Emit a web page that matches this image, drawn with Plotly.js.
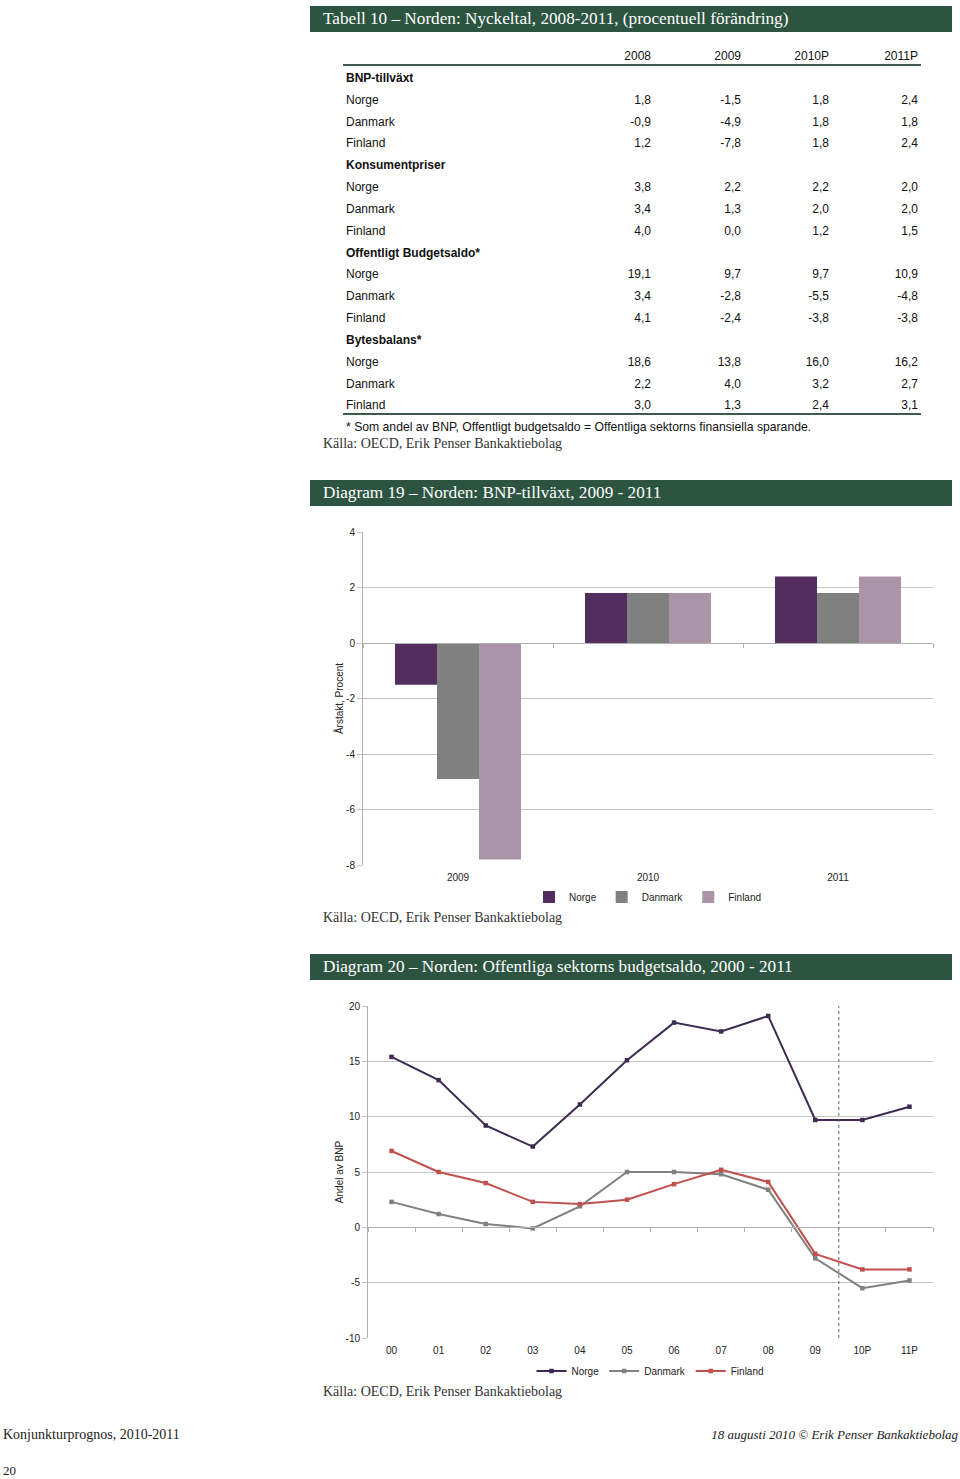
<!DOCTYPE html>
<html>
<head>
<meta charset="utf-8">
<script src="https://cdn.plot.ly/plotly-3.0.1.min.js"></script>
<style>
  html, body { margin:0; padding:0; background:#fff; }
  #page { position:relative; width:960px; height:1479px; overflow:hidden; font-family:"Liberation Sans", Arial, sans-serif; }
  .hdr { position:absolute; left:310px; width:642px; height:26px; background:#2d5441; color:#fff;
         font-family:"Liberation Serif","DejaVu Serif",serif; font-size:17.2px; line-height:26px; box-sizing:border-box; padding-left:13px; }
  .src { position:absolute; left:323px; font-family:"Liberation Serif",serif; font-size:14px; color:#333; line-height:16px; }
  .cell { position:absolute; font-size:12px; line-height:16px; color:#111; white-space:nowrap; }
  .num { width:80px; text-align:right; }
  .bold { font-weight:bold; }
  .gline { position:absolute; left:343px; width:578px; height:2px; background:#3e5a4c; }
  .foot { position:absolute; font-family:"Liberation Serif",serif; font-size:13px; color:#222; line-height:16px; white-space:nowrap; }
  #bar { position:absolute; left:310px; top:510px; width:642px; height:400px; }
  #line { position:absolute; left:310px; top:985px; width:642px; height:400px; }
</style>
</head>
<body>
<div id="page">
  <div class="hdr" style="top:6px;">Tabell 10 – Norden: Nyckeltal, 2008-2011, (procentuell förändring)</div>
  <div id="table"></div>
  <div class="gline" style="top:64px;"></div>
  <div class="gline" style="top:413px;"></div>
  <div class="cell" style="left:346px; top:419px; font-size:12.2px;">* Som andel av BNP, Offentligt budgetsaldo = Offentliga sektorns finansiella sparande.</div>
  <div class="src" style="top:436px;">Källa: OECD, Erik Penser Bankaktiebolag</div>

  <div class="hdr" style="top:480px;">Diagram 19 – Norden: BNP-tillväxt, 2009 - 2011</div>
  <div id="bar"></div>
  <div class="src" style="top:910px;">Källa: OECD, Erik Penser Bankaktiebolag</div>

  <div class="hdr" style="top:954px;">Diagram 20 – Norden: Offentliga sektorns budgetsaldo, 2000 - 2011</div>
  <div id="line"></div>
  <div class="src" style="top:1384px;">Källa: OECD, Erik Penser Bankaktiebolag</div>

  <div class="foot" style="left:3px; top:1427px; font-size:14px;">Konjunkturprognos, 2010-2011</div>
  <div class="foot" style="right:2px; top:1427px; font-style:italic;">18 augusti 2010 © Erik Penser Bankaktiebolag</div>
  <div class="foot" style="left:3px; top:1463px;">20</div>
</div>

<script>
// ---------- Table data ----------
const tableCols = ['2008', '2009', '2010P', '2011P'];
const tableSections = ['BNP-tillväxt', 'Konsumentpriser', 'Offentligt Budgetsaldo*', 'Bytesbalans*'];
const tableCountries = ['Norge', 'Danmark', 'Finland'];
const bnpTillvaxt = [[1.8, -1.5, 1.8, 2.4], [-0.9, -4.9, 1.8, 1.8], [1.2, -7.8, 1.8, 2.4]];
const konsumentpriser = [[3.8, 2.2, 2.2, 2.0], [3.4, 1.3, 2.0, 2.0], [4.0, 0.0, 1.2, 1.5]];
const budgetsaldo = [[19.1, 9.7, 9.7, 10.9], [3.4, -2.8, -5.5, -4.8], [4.1, -2.4, -3.8, -3.8]];
const bytesbalans = [[18.6, 13.8, 16.0, 16.2], [2.2, 4.0, 3.2, 2.7], [3.0, 1.3, 2.4, 3.1]];

// ---------- Diagram 19 data ----------
const barYears = ['2009', '2010', '2011'];
const barNorge = [-1.5, 1.8, 2.4];
const barDanmark = [-4.9, 1.8, 1.8];
const barFinland = [-7.8, 1.8, 2.4];
const barTickVals = [-8, -6, -4, -2, 0, 2, 4];
const barTickText = ['-8', '-6', '-4', '-2', '0', '2', '4'];

// ---------- Diagram 20 data ----------
const lineYears = ['00', '01', '02', '03', '04', '05', '06', '07', '08', '09', '10P', '11P'];
const lineNorge = [15.4, 13.3, 9.2, 7.3, 11.1, 15.1, 18.5, 17.7, 19.1, 9.7, 9.7, 10.9];
const lineDanmark = [2.3, 1.2, 0.3, -0.1, 1.9, 5.0, 5.0, 4.8, 3.4, -2.8, -5.5, -4.8];
const lineFinland = [6.9, 5.0, 4.0, 2.3, 2.1, 2.5, 3.9, 5.2, 4.1, -2.4, -3.8, -3.8];
const lineTickVals = [-10, -5, 0, 5, 10, 15, 20];
const lineTickText = ['-10', '-5', '0', '5', '10', '15', '20'];

// ---------- Build table ----------
(function buildTable() {
  const host = document.getElementById('table');
  const colRight = [651, 741, 829, 918];
  const fmt = v => v.toFixed(1).replace('.', ',');
  function cell(text, left, yc, cls) {
    const d = document.createElement('div');
    d.className = 'cell ' + (cls || '');
    d.style.left = left + 'px';
    d.style.top = (yc - 8) + 'px';
    d.textContent = text;
    host.appendChild(d);
  }
  tableCols.forEach((c, j) => cell(c, colRight[j] - 80, 56, 'num'));
  const blocks = [bnpTillvaxt, konsumentpriser, budgetsaldo, bytesbalans];
  let r = 0;
  const y0 = 78, dy = 21.83;
  blocks.forEach((blk, b) => {
    cell(tableSections[b], 346, y0 + r * dy, 'bold');
    r++;
    blk.forEach((vals, k) => {
      const yc = y0 + r * dy;
      cell(tableCountries[k], 346, yc, '');
      vals.forEach((v, j) => cell(fmt(v), colRight[j] - 80, yc, 'num'));
      r++;
    });
  });
})();

const FONT = { family: '"Liberation Sans", Arial, sans-serif', size: 10, color: '#222' };
const GRID = '#c4c4c4';
const AXIS = '#b0b0b0';

// ---------- Diagram 19 ----------
(function barChart() {
  const yMin = -8, yMax = 4;
  const xRange = [-0.5, barYears.length - 0.5];
  const traces = [
    { type: 'bar', name: 'Norge', x: barYears, y: barNorge, marker: { color: '#532d5e' } },
    { type: 'bar', name: 'Danmark', x: barYears, y: barDanmark, marker: { color: '#808080' } },
    { type: 'bar', name: 'Finland', x: barYears, y: barFinland, marker: { color: '#ab94a8' } },
    { type: 'scatter', mode: 'markers', x: barYears, y: barYears.map(() => null), xaxis: 'x2', showlegend: false, hoverinfo: 'skip' }
  ];
  const layout = {
    width: 642, height: 400,
    margin: { l: 53, r: 19, t: 22, b: 45, autoexpand: false },
    paper_bgcolor: '#fff', plot_bgcolor: '#fff',
    font: FONT,
    barmode: 'group', bargap: 0.337, bargroupgap: 0,
    showlegend: true,
    legend: { orientation: 'h', x: 0.5, xanchor: 'center', yref: 'container', y: 1 - (897 - 510) / 400, yanchor: 'middle',
              font: { size: 10 }, itemwidth: 30 },
    xaxis: { type: 'category', range: xRange, automargin: false, showline: false, showgrid: false, ticks: '', ticklabelstandoff: 5, tickfont: { size: 10 } },
    xaxis2: { type: 'category', overlaying: 'x', anchor: 'free', position: (0 - yMin) / (yMax - yMin), matches: 'x', automargin: false,
              showline: true, linecolor: AXIS, linewidth: 1, ticks: 'outside', tickson: 'boundaries', ticklen: 4, tickcolor: AXIS,
              showticklabels: false, showgrid: false },
    yaxis: { range: [yMin, yMax], tickmode: 'array', tickvals: barTickVals, ticktext: barTickText, automargin: false,
             showgrid: true, gridcolor: GRID, zeroline: false,
             showline: true, linecolor: AXIS, ticks: 'outside', ticklen: 5, tickcolor: GRID, tickfont: { size: 10 },
             title: { text: 'Årstakt, Procent', font: { size: 10 }, standoff: 0 } }
  };
  Plotly.newPlot('bar', traces, layout, { staticPlot: true, displayModeBar: false });
})();

// ---------- Diagram 20 ----------
(function lineChart() {
  const yMin = -10, yMax = 20;
  const xRange = [-0.5, lineYears.length - 0.5];
  const mk = (name, y, color) => ({
    type: 'scatter', mode: 'lines+markers', name: name, x: lineYears, y: y,
    line: { color: color, width: 2 }, marker: { symbol: 'square', size: 4.5, color: color }
  });
  const traces = [
    mk('Norge', lineNorge, '#3e2a52'),
    mk('Danmark', lineDanmark, '#808080'),
    mk('Finland', lineFinland, '#c0504d'),
    { type: 'scatter', mode: 'markers', x: lineYears, y: lineYears.map(() => null), xaxis: 'x2', showlegend: false, hoverinfo: 'skip' }
  ];
  const layout = {
    width: 642, height: 400,
    margin: { l: 58, r: 19, t: 21, b: 47, autoexpand: false },
    paper_bgcolor: '#fff', plot_bgcolor: '#fff',
    font: FONT,
    showlegend: true,
    legend: { orientation: 'h', x: 0.5, xanchor: 'center', yref: 'container', y: 1 - (1371 - 985) / 400, yanchor: 'middle',
              font: { size: 10 }, itemwidth: 30 },
    xaxis: { type: 'category', range: xRange, automargin: false, showline: false, showgrid: false, ticks: '', ticklabelstandoff: 5, tickfont: { size: 10 } },
    xaxis2: { type: 'category', overlaying: 'x', anchor: 'free', position: (0 - yMin) / (yMax - yMin), matches: 'x', automargin: false,
              showline: true, linecolor: AXIS, linewidth: 1, ticks: 'outside', tickson: 'boundaries', ticklen: 4, tickcolor: AXIS,
              showticklabels: false, showgrid: false },
    yaxis: { range: [yMin, yMax], tickmode: 'array', tickvals: lineTickVals, ticktext: lineTickText, automargin: false,
             showgrid: true, gridcolor: GRID, zeroline: false,
             showline: true, linecolor: AXIS, ticks: 'outside', ticklen: 5, tickcolor: GRID, tickfont: { size: 10 },
             title: { text: 'Andel av BNP', font: { size: 10 }, standoff: 0 } },
    shapes: [{ type: 'line', xref: 'x', yref: 'paper', x0: 9.5, x1: 9.5, y0: 0, y1: 1,
               line: { color: '#666', width: 1, dash: 'dot' } }]
  };
  Plotly.newPlot('line', traces, layout, { staticPlot: true, displayModeBar: false });
})();
</script>
</body>
</html>
